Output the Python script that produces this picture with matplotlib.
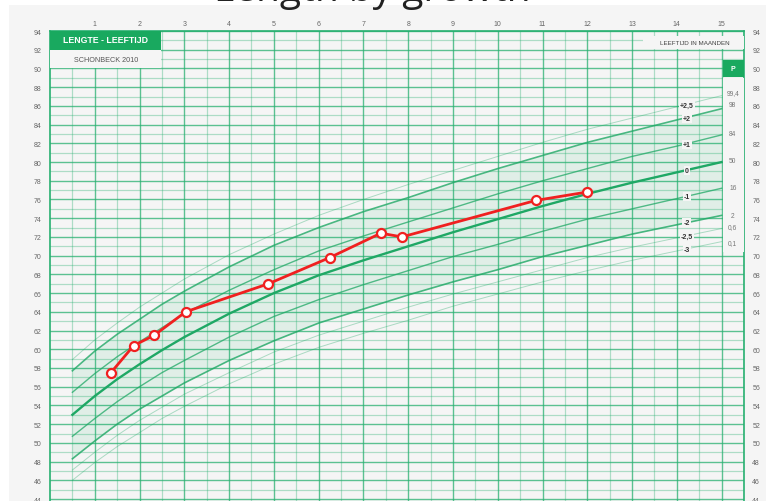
import matplotlib
matplotlib.use("Agg")
import matplotlib.pyplot as plt
from matplotlib.patches import Rectangle

plt.rcParams['font.family'] = ['Liberation Sans', 'DejaVu Sans']

# reference curves (Schonbeck 2010), length in cm per month of age
months = [0.5, 1, 1.5, 2, 2.5, 3, 4, 5, 6, 7, 8, 9, 10, 11, 12, 13, 14, 15]
sd_plus25 = [58.9, 61.0, 62.8, 64.5, 66.0, 67.5, 70.1, 72.3, 74.3, 76.0, 77.6, 79.1, 80.6, 82.1, 83.5, 84.7, 85.9, 87.1]
sd_plus2 = [57.7, 59.8, 61.6, 63.2, 64.8, 66.2, 68.8, 71.1, 73.0, 74.7, 76.2, 77.8, 79.3, 80.7, 82.1, 83.3, 84.5, 85.7]
sd_plus1 = [55.4, 57.4, 59.2, 60.8, 62.3, 63.8, 66.3, 68.5, 70.5, 72.1, 73.6, 75.1, 76.6, 78.0, 79.3, 80.6, 81.7, 82.9]
sd_zero = [53.0, 55.0, 56.8, 58.4, 59.9, 61.3, 63.8, 66.0, 67.9, 69.5, 71.0, 72.5, 73.9, 75.3, 76.6, 77.8, 78.9, 80.0]
sd_min1 = [50.7, 52.6, 54.4, 56.0, 57.5, 58.8, 61.3, 63.5, 65.3, 66.9, 68.4, 69.9, 71.2, 72.6, 73.9, 75.0, 76.1, 77.2]
sd_min2 = [48.3, 50.2, 52.0, 53.6, 55.0, 56.4, 58.8, 60.9, 62.8, 64.3, 65.8, 67.2, 68.5, 69.9, 71.1, 72.3, 73.3, 74.3]
sd_min25 = [47.1, 49.0, 50.8, 52.4, 53.8, 55.2, 57.5, 59.7, 61.5, 63.0, 64.5, 65.9, 67.2, 68.5, 69.8, 70.9, 71.9, 72.9]
sd_min3 = [46.0, 47.9, 49.6, 51.1, 52.6, 53.9, 56.3, 58.4, 60.2, 61.7, 63.1, 64.6, 65.9, 67.2, 68.4, 69.5, 70.5, 71.5]

sd_labels = ['+2,5', '+2', '+1', '0', '-1', '-2', '-2,5', '-3']
pct_labels = ['99,4', '98', '84', '50', '16', '2', '0,6', '0,1']

# measurements of the child
child_months = [1.36, 1.87, 2.33, 3.03, 4.88, 6.25, 7.39, 7.86, 10.85, 12.0]
child_length = [57.5, 60.4, 61.5, 64.0, 67.0, 69.8, 72.4, 72.0, 75.9, 76.8]

green = '#27b070'
bg = '#f5f5f5'

fig = plt.figure(figsize=(7.66, 5.02), dpi=100)
fig.patch.set_facecolor('white')
fig.patches.append(Rectangle((9 / 766, 0), 1, 496 / 502, transform=fig.transFigure,
                             facecolor=bg, edgecolor='none', zorder=-10))
# title line, mostly outside the picture (only its lower part is visible)
fig.text(0.28, 1 - 1 / 502, 'Length by growth', fontsize=28, color='#222',
         family='Open Sans', va='baseline', zorder=5)

ax = fig.add_axes([50 / 766, 0, 694 / 766, 470 / 502])
ax.set_facecolor(bg)
ax.set_xlim(0, 15.5)
ax.set_ylim(43.79, 94)

# grid
ax.set_xticks(range(1, 16))
ax.set_xticks([m + 0.5 for m in range(0, 16)], minor=True)
ax.set_yticks(range(44, 95, 2))
ax.set_yticks(range(45, 94, 2), minor=True)
ax.grid(which='major', color=green, lw=1.0, alpha=0.75)
ax.grid(which='minor', color=green, lw=0.9, alpha=0.35)
ax.xaxis.tick_top()
ax.tick_params(axis='x', which='both', length=0, pad=3, labelsize=5, labelcolor='#666')
ax.tick_params(axis='y', which='both', length=0, pad=6, labelsize=5, labelcolor='#666',
               labelleft=True, labelright=True)
for side in ['left', 'top', 'right']:
    ax.spines[side].set_color(green)
    ax.spines[side].set_linewidth(1.2)
ax.spines['bottom'].set_visible(False)

# shaded band -2 .. +2
ax.fill_between(months, sd_min2, sd_plus2, color='#2fb574', alpha=0.10, lw=0, zorder=1)

curves = [sd_plus25, sd_plus2, sd_plus1, sd_zero, sd_min1, sd_min2, sd_min25, sd_min3]
widths = [0.7, 1.2, 1.0, 1.7, 1.0, 1.2, 0.7, 0.7]
alphas = [0.35, 0.8, 0.75, 1.0, 0.75, 0.8, 0.35, 0.35]
for c, w, a in zip(curves, widths, alphas):
    ax.plot(months, c, color='#1fa865', lw=w, alpha=a, zorder=2)

# boxes on top of the grid
ax.add_patch(Rectangle((0, 92), 2.48, 2, facecolor='#19a95f', edgecolor='none', zorder=3))
ax.text(1.25, 93.05, 'LENGTE - LEEFTIJD', color='white', fontsize=6.3, fontweight='bold',
        ha='center', va='center', zorder=4)
ax.add_patch(Rectangle((0, 90.05), 2.48, 1.95, facecolor=bg, edgecolor='none', zorder=3))
ax.text(1.25, 91.0, 'SCHONBECK 2010', color='#555', fontsize=5.2, ha='center', va='center', zorder=4)

ax.add_patch(Rectangle((13.25, 92.1), 2.25, 1.35, facecolor=bg, edgecolor='none', zorder=3))
ax.text(14.4, 92.75, 'LEEFTIJD IN MAANDEN', color='#444', fontsize=4.5, ha='center', va='center', zorder=4)

ax.add_patch(Rectangle((15.03, 89.1), 0.47, 1.85, facecolor='#19a95f', edgecolor='none', zorder=3))
ax.text(15.25, 90.0, 'P', color='white', fontsize=5, fontweight='bold', ha='center', va='center', zorder=4)

ax.add_patch(Rectangle((15.03, 70.4), 0.47, 18.6, facecolor=bg, edgecolor='none', zorder=3))
pct_offsets = [0.3, 0.5, 0.1, 0.2, 0.1, 0.0, 0.2, -0.1]
for c, lab, off in zip(curves, pct_labels, pct_offsets):
    ax.text(15.25, c[-1] + off, lab, color='#777', fontsize=4.8, ha='center', va='center', zorder=4)

for c, lab in zip(curves, sd_labels):
    ax.text(14.22, c[-2] + 0.2, lab, color='#333', fontsize=5, fontweight='bold',
            ha='center', va='center', zorder=4,
            bbox=dict(boxstyle='square,pad=0.15', facecolor=bg, edgecolor='none'))

# child measurements
ax.plot(child_months, child_length, color='#f02020', lw=2, marker='o', markersize=6.5,
        markerfacecolor='white', markeredgecolor='#f02020', markeredgewidth=1.6, zorder=5)

fig.savefig('out.png', dpi=100)
